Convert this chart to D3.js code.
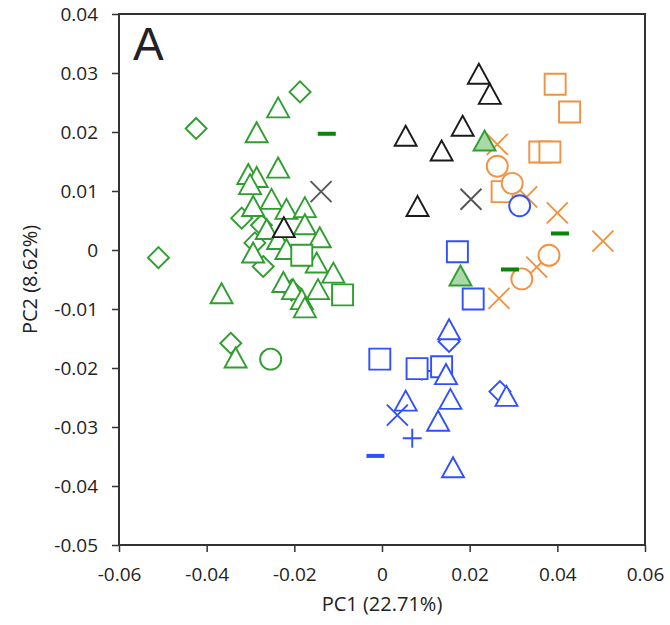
<!DOCTYPE html>
<html>
<head>
<meta charset="utf-8">
<script src="https://cdn.jsdelivr.net/npm/d3@7"></script>
<style>
  body { margin: 0; background: #fff; }
  text { font-family: "Open Sans", sans-serif; fill: #222; }
</style>
</head>
<body>
<div id="chart"></div>
<script>
// PCA scores: [PC1, PC2]
var greenDiamonds = [[-0.0424, 0.0206], [-0.0187, 0.0268], [-0.0510, -0.0013], [-0.0320, 0.0054],
  [-0.0275, 0.0042], [-0.0290, 0.0012], [-0.0271, -0.0028], [-0.0206, -0.0068], [-0.0345, -0.0158]];
var greenTriangles = [[-0.0237, 0.0240], [-0.0286, 0.0198], [-0.0237, 0.0138], [-0.0305, 0.0127],
  [-0.0286, 0.0122], [-0.0301, 0.0110], [-0.0252, 0.0085], [-0.0294, 0.0073], [-0.0218, 0.0068],
  [-0.0176, 0.0071], [-0.0263, 0.0034], [-0.0176, 0.0042], [-0.0142, 0.0020], [-0.0237, 0.0017],
  [-0.0218, 0.0000], [-0.0294, -0.0006], [-0.0149, -0.0023], [-0.0111, -0.0040], [-0.0225, -0.0056],
  [-0.0146, -0.0068], [-0.0203, -0.0068], [-0.0183, -0.0085], [-0.0176, -0.0099], [-0.0366, -0.0075],
  [-0.0334, -0.0184]];
var greenSquares = [[-0.0183, -0.0009], [-0.0090, -0.0076]];
var greenCircles = [[-0.0254, -0.0185]];
var greenDashes = [[-0.0126, 0.0197], [0.0406, 0.0028], [0.0292, -0.0033]];
var greenFilledTriangles = [[0.0234, 0.0184], [0.0179, -0.0045]];

var blackTriangles = [[0.0221, 0.0297], [0.0246, 0.0263], [0.0184, 0.0209], [0.0054, 0.0192],
  [0.0136, 0.0167], [0.0081, 0.0073], [-0.0224, 0.0037]];
var blackCrosses = [[-0.0139, 0.0099], [0.0203, 0.0086]];

var orangeSquares = [[0.0395, 0.0281], [0.0428, 0.0234], [0.0360, 0.0166], [0.0383, 0.0166], [0.0274, 0.0099]];
var orangeCrosses = [[0.0263, 0.0179], [0.0330, 0.0090], [0.0400, 0.0063], [0.0504, 0.0015],
  [0.0267, -0.0082], [0.0353, -0.0029]];
var orangeCircles = [[0.0263, 0.0142], [0.0297, 0.0113], [0.0381, -0.0009], [0.0319, -0.0049]];

var bluePluses = [[0.0091, -0.0205], [0.0069, -0.0319]];
var blueSquares = [[0.0172, -0.0003], [0.0208, -0.0083], [-0.0005, -0.0185], [0.0080, -0.0201], [0.0136, -0.0198]];
var blueDiamonds = [[0.0153, -0.0155], [0.0269, -0.0240]];
var blueTriangles = [[0.0153, -0.0136], [0.0146, -0.0212], [0.0156, -0.0254], [0.0054, -0.0257],
  [0.0128, -0.0291], [0.0162, -0.0370], [0.0284, -0.0249]];
var blueCrosses = [[0.0035, -0.0280]];
var blueCircles = [[0.0314, 0.0075]];
var blueDashes = [[-0.0015, -0.0349]];

var xTicks = [-0.06, -0.04, -0.02, 0, 0.02, 0.04, 0.06];
var yTicks = [0.04, 0.03, 0.02, 0.01, 0, -0.01, -0.02, -0.03, -0.04, -0.05];

var green = "#2e9e2e", orange = "#f0923f", blue = "#3050ff";

// drawing order matters: markers have white fill and hide what is under them
var series = [
  { data: greenDiamonds, shape: "diamond", color: green },
  { data: greenTriangles, shape: "triangle", color: green },
  { data: greenSquares, shape: "square", color: green },
  { data: greenCircles, shape: "circle", color: green },
  { data: blackTriangles, shape: "triangle", color: "#1a1a1a" },
  { data: blackCrosses, shape: "cross", color: "#555" },
  { data: orangeSquares, shape: "square", color: orange },
  { data: orangeCrosses, shape: "cross", color: orange },
  { data: orangeCircles, shape: "circle", color: orange },
  { data: bluePluses, shape: "plus", color: blue },
  { data: blueSquares, shape: "square", color: blue },
  { data: blueDiamonds, shape: "diamond", color: blue },
  { data: blueTriangles, shape: "triangle", color: blue },
  { data: blueCrosses, shape: "cross", color: blue },
  { data: blueCircles, shape: "circle", color: blue },
  { data: blueDashes, shape: "dash", color: blue },
  { data: greenFilledTriangles, shape: "triangle", color: green, fill: "#a9d9a9" },
  { data: greenDashes, shape: "dash", color: "#0a840a" }
];

var svgWidth = 670, svgHeight = 625;
var margin = { top: 14, right: 25, bottom: 80, left: 119 };
var width = svgWidth - margin.left - margin.right;
var height = svgHeight - margin.top - margin.bottom;

var svg = d3.select("#chart").append("svg")
  .attr("width", svgWidth)
  .attr("height", svgHeight);

var chartGroup = svg.append("g")
  .attr("transform", `translate(${margin.left}, ${margin.top})`);

var xScale = d3.scaleLinear().domain([-0.06, 0.06]).range([0, width]);
var yScale = d3.scaleLinear().domain([-0.05, 0.04]).range([height, 0]);

var fmt = function(d) { return d === 0 ? "0" : d3.format(".2f")(d).replace("−", "-"); };

var bottomAxis = d3.axisBottom(xScale).tickValues(xTicks).tickSize(7).tickPadding(16).tickFormat(fmt);
var leftAxis = d3.axisLeft(yScale).tickValues(yTicks).tickSize(7).tickPadding(14).tickFormat(fmt);

var xAxis = chartGroup.append("g")
  .attr("transform", `translate(0, ${height})`)
  .call(bottomAxis);
var yAxis = chartGroup.append("g").call(leftAxis);

[xAxis, yAxis].forEach(function(ax) {
  ax.select(".domain").remove();
  ax.selectAll("line").attr("stroke", "#333").attr("stroke-width", 1.5);
  ax.selectAll("text").style("font-size", "19px").attr("fill", "#222");
});

// marker paths, centred on 0,0
function markerPath(shape) {
  var p = d3.path();
  if (shape === "triangle") {
    p.moveTo(0, -11); p.lineTo(11, 9); p.lineTo(-11, 9); p.closePath();
  } else if (shape === "square") {
    p.rect(-10.5, -10.5, 21, 21);
  } else if (shape === "diamond") {
    p.moveTo(0, -10.5); p.lineTo(10.5, 0); p.lineTo(0, 10.5); p.lineTo(-10.5, 0); p.closePath();
  } else if (shape === "circle") {
    p.arc(0, 0, 10.5, 0, 2 * Math.PI);
  } else if (shape === "cross") {
    p.moveTo(-10.5, -10.5); p.lineTo(10.5, 10.5); p.moveTo(10.5, -10.5); p.lineTo(-10.5, 10.5);
  } else if (shape === "plus") {
    p.moveTo(-9.5, 0); p.lineTo(9.5, 0); p.moveTo(0, -9.5); p.lineTo(0, 9.5);
  }
  return p.toString();
}

series.forEach(function(s) {
  var g = chartGroup.append("g");
  if (s.shape === "dash") {
    g.selectAll("rect").data(s.data).enter().append("rect")
      .attr("x", d => xScale(d[0]) - 9)
      .attr("y", d => yScale(d[1]) - 2)
      .attr("width", 18)
      .attr("height", 4)
      .attr("fill", s.color);
  } else {
    g.selectAll("path").data(s.data).enter().append("path")
      .attr("transform", d => `translate(${xScale(d[0])}, ${yScale(d[1])})`)
      .attr("d", markerPath(s.shape))
      .attr("fill", s.fill || "#fff")
      .attr("stroke", s.color)
      .attr("stroke-width", 1.9);
  }
});

// frame
chartGroup.append("rect")
  .attr("width", width)
  .attr("height", height)
  .attr("fill", "none")
  .attr("stroke", "#333")
  .attr("stroke-width", 2);

chartGroup.append("text")
  .attr("x", 14)
  .attr("y", 46)
  .style("font-family", "'Liberation Sans', Arial, sans-serif")
  .style("font-size", "46px")
  .attr("fill", "#000")
  .text("A");

svg.append("text")
  .attr("x", margin.left + width / 2)
  .attr("y", 611)
  .attr("text-anchor", "middle")
  .style("font-size", "20px")
  .text("PC1 (22.71%)");

svg.append("text")
  .attr("transform", `translate(37, ${margin.top + height / 2}) rotate(-90)`)
  .attr("text-anchor", "middle")
  .style("font-size", "20px")
  .text("PC2 (8.62%)");
</script>
</body>
</html>
